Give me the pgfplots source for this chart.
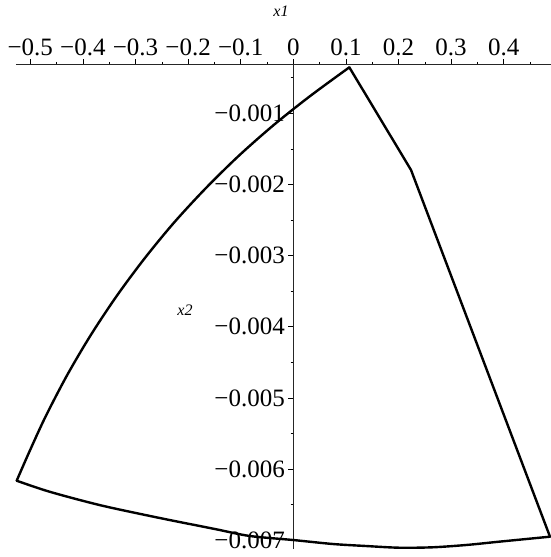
\documentclass[border=0pt]{standalone}
\usepackage{fontspec}
\setmainfont{Liberation Serif}
\usepackage{pgfplots}
\pgfplotsset{compat=1.18}
\begin{document}
\begin{tikzpicture}
\begin{axis}[
  name=ax,
  scale only axis,
  width=535pt, height=484.5pt,
  xmin=-0.5272, xmax=0.4899,
  ymin=-0.007124, ymax=-0.000313,
  axis x line=top,
  axis y line=middle,
  axis line style={-, line width=0.7pt, black!85},
  xtick={-0.5,-0.4,-0.3,-0.2,-0.1,0,0.1,0.2,0.3,0.4},
  xticklabels={−0.5,−0.4,−0.3,−0.2,−0.1,0,0.1,0.2,0.3,0.4},
  minor xtick={-0.45,-0.35,-0.25,-0.15,-0.05,0.05,0.15,0.25,0.35,0.45},
  ytick={-0.007,-0.006,-0.005,-0.004,-0.003,-0.002,-0.001},
  yticklabels={−0.007,−0.006,−0.005,−0.004,−0.003,−0.002,−0.001},
  minor ytick={-0.0065,-0.0055,-0.0045,-0.0035,-0.0025,-0.0015,-0.0005},
  scaled y ticks=false, scaled x ticks=false,
  tick align=outside,
  major tick length=5pt, minor tick length=2.7pt,
  tick style={line width=0.6pt, black},
  ticklabel style={font=\fontsize{25}{28}\selectfont},
  clip=false,
]
\addplot[black, line width=2.4pt, line cap=round, smooth, tension=0.5] coordinates {
(0.1065,-0.000353) (0.0317,-0.000758) (-0.0378,-0.001167) (-0.1042,-0.001600)
(-0.1673,-0.002059) (-0.2274,-0.002541) (-0.2837,-0.003048) (-0.3365,-0.003575)
(-0.3854,-0.004121) (-0.4302,-0.004683) (-0.4713,-0.005267) (-0.5023,-0.005765)
(-0.5259,-0.006164)};
\addplot[black, line width=2.4pt, line cap=round, smooth, tension=0.5] coordinates {
(-0.5259,-0.006164) (-0.4633,-0.006319) (-0.3684,-0.006506) (-0.2724,-0.006660)
(-0.2097,-0.006754) (-0.1464,-0.006847) (-0.0829,-0.006941) (0,-0.006998)
(0.0755,-0.007054) (0.1382,-0.007082) (0.2015,-0.007106) (0.2650,-0.007100)
(0.3283,-0.007068) (0.3916,-0.007021) (0.4880,-0.006951)};
\addplot[black, line width=2.4pt, line cap=round, line join=round, sharp plot] coordinates {
(0.1065,-0.000353) (0.2238,-0.001796) (0.4880,-0.006951)};
\node[font=\fontsize{16}{18}\selectfont\itshape] at (axis cs:-0.0234,-0.000313) [yshift=53.5pt] {x1};
\node[font=\fontsize{16}{18}\selectfont\itshape] at (axis cs:-0.206,-0.003764) {x2};
\end{axis}
\pgfresetboundingbox
\path[use as bounding box] ([shift={(-16pt,-8pt)}]ax.south west) rectangle ([shift={(0pt,64.5pt)}]ax.north east);
\end{tikzpicture}
\end{document}
